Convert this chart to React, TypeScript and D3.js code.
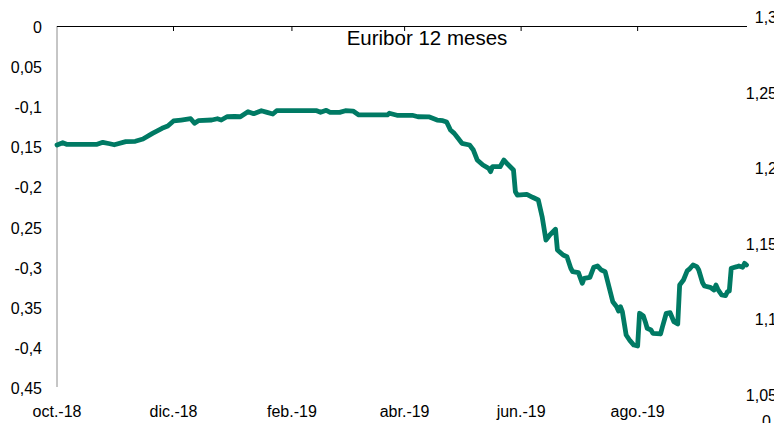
import React from "react";
import * as d3 from "d3";

const dates = [
  "2018-10-01","2018-10-04","2018-10-06","2018-10-22","2018-10-25","2018-10-28","2018-10-31",
  "2018-11-06","2018-11-11","2018-11-15","2018-11-20","2018-11-25","2018-11-28",
  "2018-12-01","2018-12-05","2018-12-10","2018-12-12","2018-12-14","2018-12-21","2018-12-24","2018-12-26","2018-12-29",
  "2019-01-02","2019-01-05","2019-01-09","2019-01-12","2019-01-16","2019-01-19","2019-01-22","2019-01-24",
  "2019-02-14","2019-02-16","2019-02-19","2019-02-21","2019-02-26",
  "2019-03-01","2019-03-05","2019-03-08","2019-03-23","2019-03-24","2019-03-28",
  "2019-04-05","2019-04-08","2019-04-14","2019-04-18","2019-04-21","2019-04-23","2019-04-25","2019-04-27","2019-04-29",
  "2019-05-01","2019-05-05","2019-05-07","2019-05-09","2019-05-12","2019-05-15","2019-05-16","2019-05-17","2019-05-21","2019-05-23","2019-05-25","2019-05-28","2019-05-29","2019-05-30",
  "2019-06-04","2019-06-07","2019-06-10","2019-06-12","2019-06-14","2019-06-16","2019-06-19","2019-06-20","2019-06-23","2019-06-25","2019-06-27","2019-06-28",
  "2019-07-01","2019-07-03","2019-07-04","2019-07-07","2019-07-09","2019-07-11","2019-07-13","2019-07-15","2019-07-17","2019-07-19","2019-07-21","2019-07-22","2019-07-23","2019-07-24","2019-07-26","2019-07-28","2019-07-30",
  "2019-08-01","2019-08-02","2019-08-04","2019-08-05","2019-08-06","2019-08-08","2019-08-09","2019-08-13","2019-08-14","2019-08-16","2019-08-18","2019-08-20","2019-08-22","2019-08-23","2019-08-25","2019-08-27","2019-08-28","2019-08-30",
  "2019-09-01","2019-09-02","2019-09-04","2019-09-05","2019-09-08","2019-09-10","2019-09-11","2019-09-12","2019-09-14","2019-09-16","2019-09-17","2019-09-18","2019-09-19","2019-09-22","2019-09-23","2019-09-25","2019-09-26","2019-09-27",
];

const euribor12m = [
  -0.1483,-0.1455,-0.1475,-0.1475,-0.145,-0.1465,-0.148,
  -0.1442,-0.1437,-0.1409,-0.1338,-0.1275,-0.1247,
  -0.1184,-0.1172,-0.1156,-0.1213,-0.118,-0.1172,-0.1156,-0.1172,-0.1131,
  -0.1128,-0.1131,-0.1068,-0.1093,-0.1056,-0.1076,-0.1097,-0.1056,
  -0.1056,-0.1076,-0.1051,-0.1076,-0.1076,
  -0.1056,-0.106,-0.1109,-0.1109,-0.1088,-0.1113,
  -0.1113,-0.1131,-0.1134,-0.1172,-0.118,-0.1197,-0.1296,-0.1338,-0.14,
  -0.1462,-0.1483,-0.1546,-0.167,-0.1733,-0.1774,-0.1816,-0.1754,-0.1754,-0.167,-0.1724,-0.1795,-0.2066,-0.2107,
  -0.2098,-0.2135,-0.2169,-0.2377,-0.2668,-0.2605,-0.2534,-0.2792,-0.2855,-0.2876,-0.302,-0.3063,
  -0.3075,-0.3207,-0.3145,-0.3133,-0.3008,-0.2992,-0.3042,-0.3063,-0.325,-0.3437,-0.3499,-0.3553,-0.3499,-0.3561,-0.3852,-0.3923,-0.3977,
  -0.3989,-0.3581,-0.3615,-0.3686,-0.3768,-0.379,-0.3831,-0.3839,-0.3749,-0.3581,-0.3574,-0.3686,-0.3715,-0.3229,-0.3166,-0.305,-0.3033,-0.2979,
  -0.3,-0.3042,-0.32,-0.3241,-0.3257,-0.3291,-0.3229,-0.3282,-0.3353,-0.3362,-0.3312,-0.3303,-0.302,-0.3,-0.2992,-0.3008,-0.2958,-0.2979,
];

const leftTickValues = [0, -0.05, -0.1, -0.15, -0.2, -0.25, -0.3, -0.35, -0.4, -0.45];
const leftTickLabels = ["0", "0,05", "-0,1", "0,15", "-0,2", "0,25", "-0,3", "0,35", "-0,4", "0,45"];
const rightTickValues = [1.3, 1.25, 1.2, 1.15, 1.1, 1.05];
const rightTickLabels = ["1,3", "1,25", "1,2", "1,15", "1,1", "1,05"];
const xTickDates = ["2018-10-01", "2018-12-01", "2019-02-01", "2019-04-01", "2019-06-01", "2019-08-01"];
const xTickLabels = ["oct.-18", "dic.-18", "feb.-19", "abr.-19", "jun.-19", "ago.-19"];
const title = "Euribor 12 meses";

const W = 774;
const H = 423;
const FONT = "'Liberation Sans', Arial, sans-serif";
const GREEN = "#007a64";

export default function App() {
  const parse = d3.utcParse("%Y-%m-%d");
  const data = dates.map((d, i) => ({ date: parse(d) as Date, value: euribor12m[i] }));

  const x = d3
    .scaleUtc()
    .domain([parse("2018-10-01") as Date, parse("2019-09-27") as Date])
    .range([57, 746.5]);
  const y = d3.scaleLinear().domain([0, -0.45]).range([26, 387]);
  const yR = d3.scaleLinear().domain([1.05, 1.3]).range([395, 17]);

  const line = d3
    .line<{ date: Date; value: number }>()
    .x((d) => x(d.date))
    .y((d) => y(d.value));

  const tickDates = xTickDates.map((d) => parse(d) as Date);

  return (
    <svg
      width={W}
      height={H}
      style={{ position: "absolute", left: 0, top: 0, background: "#fff" }}
      fontFamily={FONT}
    >
      <rect width={W} height={H} fill="#fff" />
      {/* left axis */}
      <line x1={57} x2={57} y1={y(0)} y2={y(-0.45)} stroke="#8c8c8c" strokeWidth={1} />
      {leftTickValues.map((v, i) => (
        <text key={"l" + i} x={42} y={y(v) + 7} textAnchor="end" fontSize={16} fill="#000">
          {leftTickLabels[i]}
        </text>
      ))}
      {/* zero / category axis at top */}
      <line x1={57} x2={747} y1={y(0) + 0.5} y2={y(0) + 0.5} stroke="#000" strokeWidth={1} />
      {tickDates.slice(1).map((d, i) => (
        <line key={"t" + i} x1={x(d)} x2={x(d)} y1={y(0)} y2={y(0) + 5} stroke="#000" strokeWidth={1} />
      ))}
      {tickDates.map((d, i) => (
        <text key={"x" + i} x={x(d)} y={417} textAnchor="middle" fontSize={16} fill="#000">
          {xTickLabels[i]}
        </text>
      ))}
      {/* right axis labels */}
      {rightTickValues.map((v, i) => (
        <text key={"r" + i} x={777} y={yR(v) + 6} textAnchor="end" fontSize={16} fill="#000">
          {rightTickLabels[i]}
        </text>
      ))}
      <text x={762} y={427} fontSize={16} fill="#000">0</text>
      {/* title */}
      <text x={427} y={45} textAnchor="middle" fontSize={20.5} fill="#000">
        {title}
      </text>
      {/* series */}
      <path
        d={line(data) || ""}
        fill="none"
        stroke={GREEN}
        strokeWidth={4.8}
        strokeLinejoin="round"
        strokeLinecap="round"
      />
    </svg>
  );
}
